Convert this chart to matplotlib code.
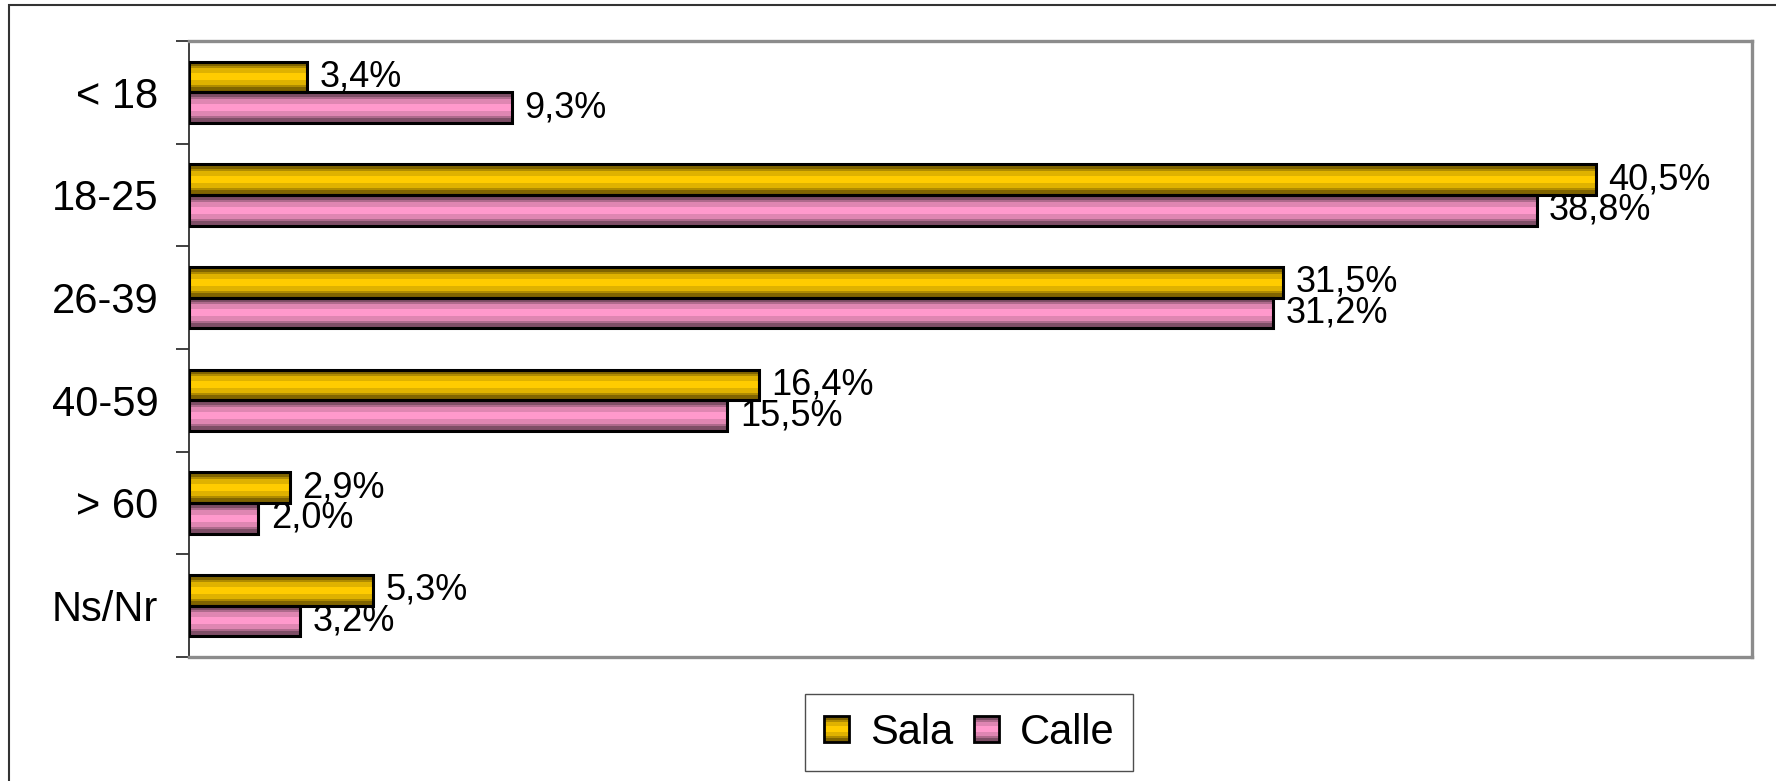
import numpy as np
import matplotlib.pyplot as plt
from matplotlib.patches import Rectangle
from matplotlib.colors import LinearSegmentedColormap
from matplotlib.legend_handler import HandlerBase

plt.rcParams['font.family'] = ['Liberation Sans', 'DejaVu Sans']

categories = ['< 18', '18-25', '26-39', '40-59', '> 60', 'Ns/Nr']
sala = [3.4, 40.5, 31.5, 16.4, 2.9, 5.3]
calle = [9.3, 38.8, 31.2, 15.5, 2.0, 3.2]
sala_labels = ['3,4%', '40,5%', '31,5%', '16,4%', '2,9%', '5,3%']
calle_labels = ['9,3%', '38,8%', '31,2%', '15,5%', '2,0%', '3,2%']

gold_cmap = LinearSegmentedColormap.from_list('gold', ['#806400', '#FFCC00'])
pink_cmap = LinearSegmentedColormap.from_list('pink', ['#7E4E66', '#FF99CC'])

# banded vertical gradient: dark edges, light middle
steps = np.linspace(-1, 1, 13)
grad = np.floor((1 - np.abs(steps)) * 4) / 4
grad = np.clip(grad * 1.5, 0, 1).reshape(-1, 1)


class GradientBox(HandlerBase):
    # legend key drawn as striped square like the bars
    def __init__(self, cmap):
        super().__init__()
        self.cmap = cmap

    def create_artists(self, legend, orig_handle, xdescent, ydescent, width, height, fontsize, trans):
        arts = []
        n = len(grad)
        sh = height / n
        for i, g in enumerate(grad[:, 0]):
            r = Rectangle((-xdescent, -ydescent + i * sh), width, sh, facecolor=self.cmap(g),
                          edgecolor='none', transform=trans)
            arts.append(r)
        arts.append(Rectangle((-xdescent, -ydescent), width, height, facecolor='none',
                              edgecolor='black', linewidth=2, transform=trans))
        return arts


def main():
    fig = plt.figure(figsize=(17.76, 7.81), dpi=100)
    ax = fig.add_axes([189 / 1776, 1 - 657 / 781, (1752 - 189) / 1776, (657 - 41) / 781])

    y = np.arange(len(categories))
    h = 0.3
    bars_s = ax.barh(y - h / 2, sala, h, facecolor='none', edgecolor='black', linewidth=2.2, zorder=3)
    bars_c = ax.barh(y + h / 2, calle, h, facecolor='none', edgecolor='black', linewidth=2.2, zorder=3)

    for bars, cmap in [(bars_s, gold_cmap), (bars_c, pink_cmap)]:
        for b in bars:
            x0, y0, w, hh = b.get_x(), b.get_y(), b.get_width(), b.get_height()
            ax.imshow(grad, cmap=cmap, vmin=0, vmax=1, aspect='auto',
                      extent=[x0, x0 + w, y0 + hh, y0], zorder=2, interpolation='nearest')

    for bars, labels in [(bars_s, sala_labels), (bars_c, calle_labels)]:
        for b, lab in zip(bars, labels):
            ax.annotate(lab, (b.get_width(), b.get_y() + b.get_height() / 2),
                        xytext=(9, 0), textcoords='offset points',
                        ha='left', va='center', fontsize=26, zorder=4)

    ax.set_xlim(0, 45)
    ax.set_ylim(len(categories) - 0.5, -0.5)
    ax.set_yticks(np.arange(len(categories) + 1) - 0.5)
    ax.set_yticklabels([])
    ax.set_yticks(y, minor=True)
    ax.set_yticklabels(categories, minor=True, fontsize=30)
    ax.tick_params(axis='y', which='major', length=9.5, width=1.2, color='#202020', direction='out')
    ax.tick_params(axis='y', which='minor', length=0, pad=22)
    ax.set_xticks([])

    ax.spines['left'].set_color('#303030')
    ax.spines['left'].set_linewidth(1.3)
    for s in ['top', 'right', 'bottom']:
        ax.spines[s].set_color('#8C8C8C')
        ax.spines[s].set_linewidth(2.4)

    # outer chart border
    fig.patches.append(Rectangle((9 / 1776, -0.05), 1.2, 1 - 5 / 781 + 0.05,
                                 transform=fig.transFigure, fill=False,
                                 edgecolor='#333333', linewidth=1.5))

    h_sala = Rectangle((0, 0), 1, 1)
    h_calle = Rectangle((0, 0), 1, 1)
    leg = fig.legend([h_sala, h_calle], ['Sala', 'Calle'], loc='center',
                     bbox_to_anchor=(969 / 1776, 1 - 732.5 / 781),
                     handler_map={h_sala: GradientBox(gold_cmap), h_calle: GradientBox(pink_cmap)},
                     ncol=2, fontsize=30, frameon=True, fancybox=False, handlelength=0.6,
                     handleheight=0.6, handletextpad=0.5, columnspacing=0.5, borderpad=0.45)
    leg.get_frame().set_edgecolor('#222222')
    leg.get_frame().set_linewidth(1.0)

    fig.savefig('out.png', dpi=100)


if __name__ == "__main__":
    main()
